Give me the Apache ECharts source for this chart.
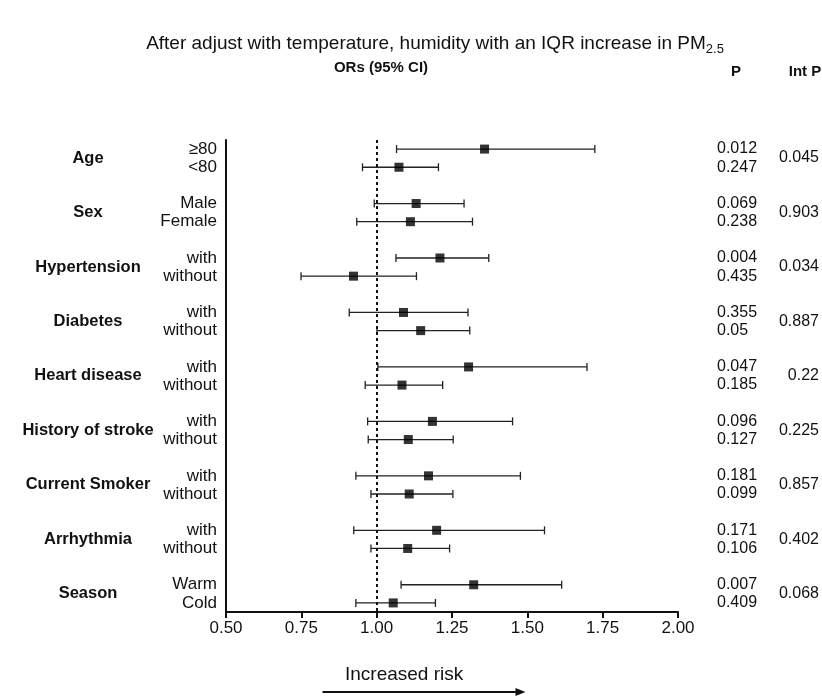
<!DOCTYPE html>
<html>
<head>
<meta charset="utf-8">
<script src="https://cdn.jsdelivr.net/npm/echarts@6/dist/echarts.min.js"></script>
<style>html,body{margin:0;padding:0;background:#fff;}#c{width:822px;height:699px;}</style>
</head>
<body>
<div id="c"></div>
<script>
const groups = ['Age','Sex','Hypertension','Diabetes','Heart disease','History of stroke','Current Smoker','Arrhythmia','Season'];
const subLabels = [['≥80','<80'],['Male','Female'],['with','without'],['with','without'],['with','without'],['with','without'],['with','without'],['with','without'],['Warm','Cold']];
const orValues = [[1.358,1.074],[1.131,1.112],[1.210,0.923],[1.089,1.146],[1.305,1.084],[1.185,1.105],[1.172,1.108],[1.199,1.103],[1.322,1.055]];
const lowerCI = [[1.066,0.953],[0.992,0.934],[1.064,0.749],[0.909,1.001],[1.004,0.962],[0.970,0.972],[0.931,0.981],[0.924,0.981],[1.081,0.931]];
const upperCI = [[1.724,1.205],[1.290,1.318],[1.372,1.132],[1.303,1.309],[1.698,1.219],[1.451,1.254],[1.477,1.253],[1.557,1.242],[1.614,1.195]];
const pValues = [['0.012','0.247'],['0.069','0.238'],['0.004','0.435'],['0.355','0.05'],['0.047','0.185'],['0.096','0.127'],['0.181','0.099'],['0.171','0.106'],['0.007','0.409']];
const intP = ['0.045','0.903','0.034','0.887','0.22','0.225','0.857','0.402','0.068'];
const xTicks = [0.5, 0.75, 1.0, 1.25, 1.5, 1.75, 2.0];

// build category rows (blank spacer rows between groups)
const rowSub = [], rowGroup = [], rowP = [], rowInt = [];
const pts = [], bars = [];
groups.forEach((g, i) => {
  if (i > 0) { rowSub.push(''); rowGroup.push(''); rowP.push(''); rowInt.push(''); }
  for (let j = 0; j < 2; j++) {
    const idx = rowSub.length;
    rowSub.push(subLabels[i][j]);
    rowGroup.push(j === 0 ? g : '');
    rowP.push(pValues[i][j]);
    rowInt.push(j === 0 ? intP[i] : '');
    pts.push([orValues[i][j], idx]);
    bars.push([lowerCI[i][j], upperCI[i][j], idx]);
  }
});

const FONT = 'Liberation Sans, Arial, sans-serif';
const chart = echarts.init(document.getElementById('c'), null, {renderer: 'canvas'});
const baseY = {
  type: 'category', inverse: true, data: rowSub,
  axisTick: {show: false}, splitLine: {show: false},
  axisLine: {show: false}
};
chart.setOption({
  animation: false,
  backgroundColor: '#fff',
  textStyle: {fontFamily: FONT},
  title: [
    {text: 'After adjust with temperature, humidity with an IQR increase in PM{s|2.5}',
     left: 430, top: 26, textAlign: 'center',
     textStyle: {fontFamily: FONT, fontSize: 19, fontWeight: 'normal', color: '#111',
       rich: {s: {fontSize: 13, fontFamily: FONT, color: '#111', padding: [12, 0, 0, 0]}}}},
    {text: 'ORs (95% CI)', left: 376, top: 55, textAlign: 'center',
     textStyle: {fontFamily: FONT, fontSize: 15, fontWeight: 'bold', color: '#111'}},
    {text: 'P', left: 731, top: 59, textAlign: 'center',
     textStyle: {fontFamily: FONT, fontSize: 15, fontWeight: 'bold', color: '#111'}},
    {text: 'Int P', left: 800, top: 59, textAlign: 'center',
     textStyle: {fontFamily: FONT, fontSize: 15, fontWeight: 'bold', color: '#111'}}
  ],
  grid: {left: 226, right: 143, top: 140, bottom: 87},
  xAxis: {
    type: 'value', min: 0.5, max: 2, interval: 0.25,
    splitLine: {show: false},
    axisLine: {show: true, onZero: false, lineStyle: {color: '#111', width: 2}},
    axisTick: {show: true, length: 6, lineStyle: {color: '#111', width: 2}},
    axisLabel: {fontSize: 17, color: '#111', margin: 8, fontFamily: FONT,
      formatter: v => v.toFixed(2)}
  },
  yAxis: [
    Object.assign({}, baseY, {
      position: 'left',
      axisLine: {show: true, lineStyle: {color: '#111', width: 2}},
      axisLabel: {interval: 0, fontSize: 17, color: '#111', margin: 9, fontFamily: FONT}
    }),
    Object.assign({}, baseY, {
      data: rowGroup, position: 'left',
      axisLabel: {interval: 0, fontSize: 16.5, fontWeight: 'bold', color: '#111', margin: 138, align: 'center',
        verticalAlign: 'top', lineHeight: 18, fontFamily: FONT}
    }),
    Object.assign({}, baseY, {
      data: rowP, position: 'right',
      axisLabel: {interval: 0, fontSize: 16, color: '#111', margin: 39, align: 'left', fontFamily: FONT}
    }),
    Object.assign({}, baseY, {
      data: rowInt, position: 'right',
      axisLabel: {interval: 0, fontSize: 16, color: '#111', margin: 141, align: 'right',
        verticalAlign: 'top', lineHeight: 18, fontFamily: FONT}
    })
  ],
  series: [
    {
      type: 'custom',
      yAxisIndex: 0,
      data: bars,
      encode: {x: [0, 1], y: 2},
      renderItem: (params, api) => {
        const y = api.value(2);
        const p1 = api.coord([api.value(0), y]);
        const p2 = api.coord([api.value(1), y]);
        const h = 4;
        const st = {stroke: '#222', lineWidth: 1.3};
        return {type: 'group', children: [
          {type: 'line', shape: {x1: p1[0], y1: p1[1], x2: p2[0], y2: p2[1]}, style: st},
          {type: 'line', shape: {x1: p1[0], y1: p1[1] - h, x2: p1[0], y2: p1[1] + h}, style: st},
          {type: 'line', shape: {x1: p2[0], y1: p2[1] - h, x2: p2[0], y2: p2[1] + h}, style: st}
        ]};
      },
      z: 3
    },
    {
      type: 'scatter',
      yAxisIndex: 0,
      data: pts,
      symbol: 'rect', symbolSize: 9,
      itemStyle: {color: '#000'},
      z: 4,
      markLine: {
        silent: true, symbol: 'none', label: {show: false},
        lineStyle: {color: '#111', type: [3, 3], width: 2},
        data: [{xAxis: 1}]
      }
    }
  ],
  graphic: [
    {type: 'text', left: 345, top: 665,
     style: {text: 'Increased risk', fontSize: 19, fill: '#111', fontFamily: FONT}},
    {type: 'group', left: 320, top: 688, children: [
      {type: 'line', shape: {x1: 0, y1: 4, x2: 196, y2: 4}, style: {stroke: '#111', lineWidth: 2}},
      {type: 'polygon', shape: {points: [[193, 0], [203, 4], [193, 8]]}, style: {fill: '#111'}}
    ]}
  ]
});
</script>
</body>
</html>
